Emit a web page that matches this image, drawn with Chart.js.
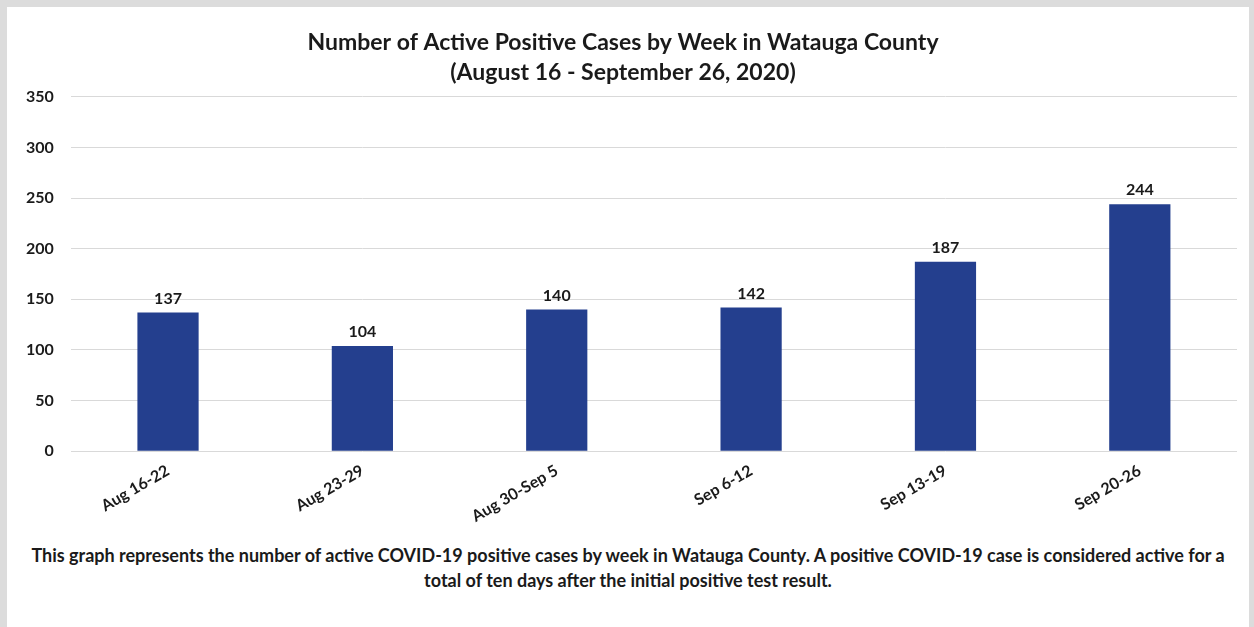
<!DOCTYPE html>
<html>
<head>
<meta charset="utf-8">
<script src="https://cdn.jsdelivr.net/npm/chart.js@4/dist/chart.umd.min.js"></script>
<style>
    body { margin: 0; background: #fff; }
    #frame {
        position: absolute; left: 0; top: 0; width: 1242px; height: 640px;
        border: 7px solid #dcdcdc; border-bottom: none; background: #fff;
    }
    #box { position: absolute; left: 0; top: 0; width: 1242px; height: 521px; }
    #note {
        position: absolute; left: 0; top: 536px; width: 1242px; text-align: center;
        font: bold 18px Lato, sans-serif; color: #1a1a1a; line-height: 25px;
    }
</style>
</head>
<body>
<div id="frame">
    <div id="box"><canvas id="chart"></canvas></div>
    <div id="note">This graph represents the number of active COVID-19 positive cases by week in Watauga County. A positive COVID-19 case is considered active for a<br>total of ten days after the initial positive test result.</div>
</div>
<script>
const weeks = ['Aug 16-22', 'Aug 23-29', 'Aug 30-Sep 5', 'Sep 6-12', 'Sep 13-19', 'Sep 20-26'];
const activeCases = [137, 104, 140, 142, 187, 244];
const yTicks = [0, 50, 100, 150, 200, 250, 300, 350];

// draw the number above each bar
const valueLabels = {
    id: 'valueLabels',
    afterDatasetsDraw(chart) {
        const ctx = chart.ctx;
        ctx.save();
        ctx.font = 'bold 16px Lato, sans-serif';
        ctx.fillStyle = '#1a1a1a';
        ctx.textAlign = 'center';
        ctx.textBaseline = 'bottom';
        chart.getDatasetMeta(0).data.forEach((bar, i) => {
            ctx.fillText(activeCases[i], bar.x, bar.y - 6);
        });
        ctx.restore();
    }
};

document.addEventListener("DOMContentLoaded", function () {
    const ctx = document.getElementById('chart').getContext('2d');
    new Chart(ctx, {
        type: 'bar',
        data: {
            labels: weeks,
            datasets: [{
                data: activeCases,
                backgroundColor: '#243f8e',
                barPercentage: 0.315,
                categoryPercentage: 1
            }]
        },
        options: {
            responsive: true,
            maintainAspectRatio: false,
            animation: false,
            layout: { padding: { left: 2, right: 12, top: 13, bottom: 0 } },
            plugins: {
                legend: { display: false },
                tooltip: { enabled: false },
                title: {
                    display: true,
                    text: ['Number of Active Positive Cases by Week in Watauga County', '(August 16 - September 26, 2020)'],
                    color: '#1a1a1a',
                    font: { family: 'Lato', size: 23, weight: 'bold', lineHeight: 1.3 },
                    padding: { top: 8, bottom: 9 }
                }
            },
            scales: {
                x: {
                    grid: { display: false },
                    border: { display: false },
                    ticks: {
                        color: '#1a1a1a',
                        font: { family: 'Lato', size: 16, weight: 'bold' },
                        minRotation: 30,
                        maxRotation: 30,
                        padding: 2
                    }
                },
                y: {
                    min: 0,
                    max: 350,
                    afterBuildTicks: axis => { axis.ticks = yTicks.map(v => ({ value: v })); },
                    grid: { color: '#d9d9d9', drawTicks: false },
                    border: { display: false },
                    ticks: {
                        color: '#1a1a1a',
                        font: { family: 'Lato', size: 16, weight: 'bold' },
                        padding: 17
                    }
                }
            }
        },
        plugins: [valueLabels]
    });
});
</script>
</body>
</html>
